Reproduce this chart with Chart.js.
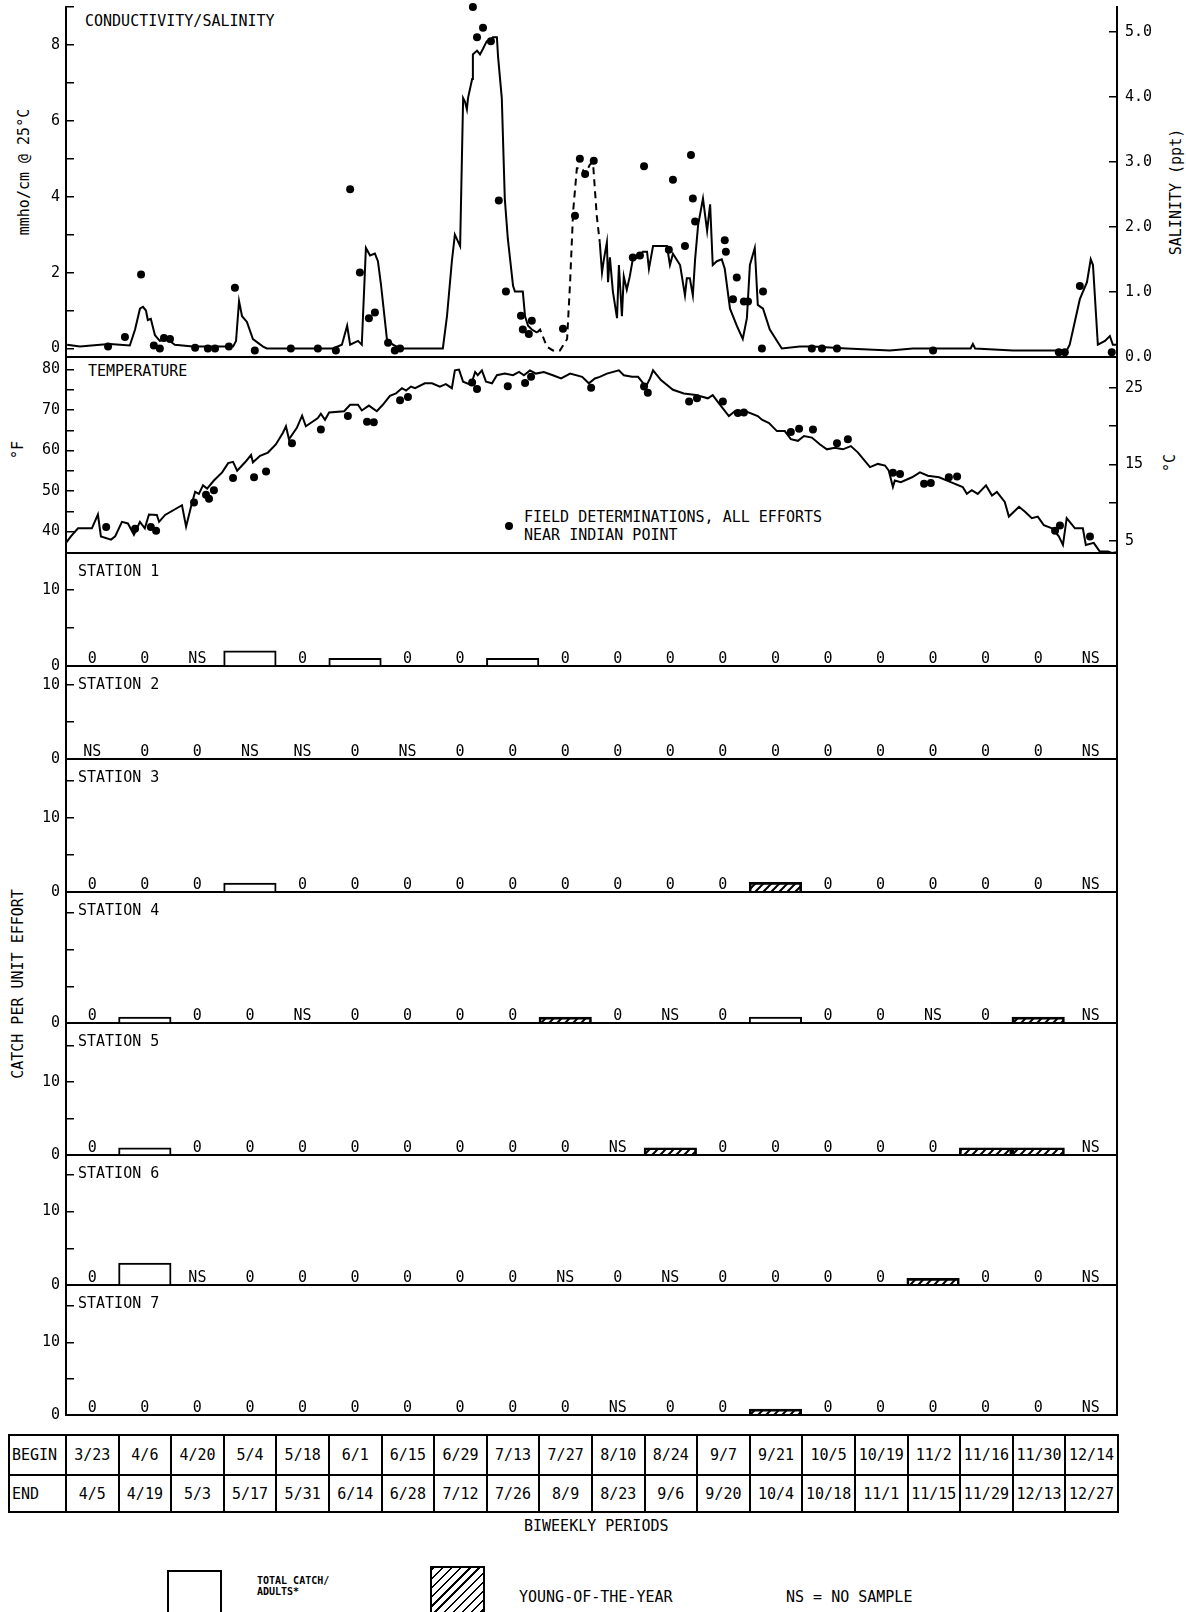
<!DOCTYPE html>
<html>
<head>
<meta charset="utf-8">
<title>Catch per unit effort, conductivity and temperature</title>
<script src="https://cdn.jsdelivr.net/npm/chart.js@4.4.1/dist/chart.umd.min.js"></script>
<style>
  body { margin: 0; background: #fff; }
  #page { position: relative; width: 1186px; height: 1612px; overflow: hidden;
          font-family: "DejaVu Sans Mono", monospace; font-size: 15px; color: #000; }
  canvas { position: absolute; left: 0; }
  .txt { position: absolute; white-space: nowrap; line-height: 16px; }
  .rot { position: absolute; white-space: nowrap; line-height: 16px;
         transform: translate(-50%, -50%) rotate(-90deg); }
  .dot { position: absolute; width: 8px; height: 8px; border-radius: 50%; background: #000; }
  #periods { position: absolute; left: 8px; top: 1434px; border-collapse: collapse; table-layout: fixed; }
  #periods td { border: 2px solid #000; padding: 0; text-align: center; white-space: nowrap; }
  #periods td.head { text-align: left; padding-left: 2px; }
  .box { position: absolute; width: 51px; height: 40px; border: 2px solid #000; }
  .hatched { background: repeating-linear-gradient(135deg, #000 0 1.6px, #fff 1.6px 6.5px); }
</style>
</head>
<body>
<div id="page">
  <div class="txt" style="left:85px; top:13px;">CONDUCTIVITY/SALINITY</div>
  <div class="txt" style="left:88px; top:363px;">TEMPERATURE</div>
  <div class="dot" style="left:505px; top:522px;"></div>
  <div class="txt" style="left:524px; top:509px;">FIELD DETERMINATIONS, ALL EFFORTS</div>
  <div class="txt" style="left:524px; top:527px;">NEAR INDIAN POINT</div>

  <div class="rot" style="left:24px; top:172px;">mmho/cm @ 25°C</div>
  <div class="rot" style="left:1176px; top:192px;">SALINITY (ppt)</div>
  <div class="rot" style="left:18px; top:450px;">°F</div>
  <div class="rot" style="left:1170px; top:463px;">°C</div>
  <div class="rot" style="left:18px; top:984px;">CATCH PER UNIT EFFORT</div>

  <table id="periods"></table>
  <div class="txt" style="left:524px; top:1518px;">BIWEEKLY PERIODS</div>

  <div class="box" style="left:167px; top:1570px;"></div>
  <div class="txt" style="left:257px; top:1575px; font-size:10px; line-height:11px; font-weight:bold;">TOTAL CATCH/<br>ADULTS*</div>
  <div class="box hatched" style="left:430px; top:1566px; height:44px;"></div>
  <div class="txt" style="left:519px; top:1589px;">YOUNG-OF-THE-YEAR</div>
  <div class="txt" style="left:786px; top:1589px;">NS = NO SAMPLE</div>
</div>

<script>
// ---------- periods (x runs in days counted from 3/23, 20 periods of 14 days) ----------
var BEGIN_DATES = ['3/23', '4/6', '4/20', '5/4', '5/18', '6/1', '6/15', '6/29', '7/13', '7/27',
                   '8/10', '8/24', '9/7', '9/21', '10/5', '10/19', '11/2', '11/16', '11/30', '12/14'];
var END_DATES = ['4/5', '4/19', '5/3', '5/17', '5/31', '6/14', '6/28', '7/12', '7/26', '8/9',
                 '8/23', '9/6', '9/20', '10/4', '10/18', '11/1', '11/15', '11/29', '12/13', '12/27'];
var SEASON_DAYS = 280;

// ---------- conductivity (mmho/cm @ 25 C), continuous record ----------
var COND_DAY = [0.3, 3.7, 9.1, 11.7, 17.0, 18.4, 19.7, 20.5, 21.3, 21.8, 22.6, 23.7, 25.0, 26.9, 29.0, 33.8,
  44.5, 45.3, 46.1, 46.9, 48.2, 49.8, 52.5, 53.5, 71.1, 73.5, 74.9, 75.7, 77.8, 78.8, 79.9, 81.0, 82.3, 83.1,
  83.9, 85.5, 87.1, 89.0, 100.4, 101.5, 102.8, 103.6, 105.0, 105.8, 106.3, 106.8, 107.1, 108.2, 108.4, 109.5,
  110.3, 111.1, 112.1, 112.9, 113.7, 114.8, 115.1, 116.1, 116.9, 117.7, 119.1, 119.6, 121.7, 122.3, 123.1,
  124.1, 125.5, 126.3, 128.1, 129.7, 131.6, 133.5, 134.3, 135.1, 136.1, 137.5, 138.3, 139.6, 140.4, 141.4,
  142.2, 142.8, 143.3, 144.1, 144.4, 144.9, 145.7, 146.8, 147.3, 148.1, 148.6, 149.4, 150.2, 151.0, 152.4,
  153.7, 154.8, 155.3, 156.4, 158.2, 160.1, 160.9, 161.7, 163.6, 164.9, 165.4, 166.2, 167.0, 167.6, 168.4,
  169.7, 170.8, 171.6, 172.3, 173.4, 174.7, 175.5, 176.9, 178.7, 180.3, 181.4, 182.2, 183.5, 184.3, 185.7,
  187.5, 190.7, 195.5, 199.0, 208.0, 219.5, 225.6, 241.0, 241.6, 242.2, 252.3, 266.6, 267.4, 270.1, 272.0,
  273.0, 273.6, 274.9, 276.8, 278.1, 278.9, 280];
var COND_VAL = [0.1, 0.05, 0.1, 0.12, 0.08, 0.5, 1.05, 1.1, 1.0, 0.75, 0.78, 0.35, 0.2, 0.25, 0.1, 0.05,
  0.05, 0.2, 1.25, 0.85, 0.7, 0.25, 0.05, 0.0, 0.0, 0.1, 0.6, 0.1, 0.2, 0.1, 2.65, 2.45, 2.5, 2.3,
  1.7, 0.25, 0.1, 0.0, 0.0, 0.85, 2.3, 3.0, 2.7, 6.6, 6.5, 6.3, 6.6, 7.1, 7.75, 7.85,
  7.75, 7.9, 8.1, 8.1, 8.2, 8.2, 7.7, 6.6, 3.95, 2.9, 1.65, 1.5, 1.5, 0.85, 0.6,
  0.5, 0.42, 0.5, 0.05, -0.05, -0.05, 0.25, 1.75, 3.6, 4.75, 4.75, 4.6, 4.85, 4.9, 3.5,
  2.8, 2.0, 2.35, 2.8, 1.75, 2.4, 1.5, 0.8, 2.2, 0.85, 1.9, 1.55, 1.9, 2.35, 2.4,
  2.55, 2.55, 2.1, 2.7, 2.7, 2.7, 2.2, 2.5, 2.2, 1.4, 1.85, 1.85, 1.4, 2.35, 3.25,
  3.95, 3.1, 3.8, 2.2, 2.3, 2.35, 2.1, 1.05, 0.6, 0.25, 0.8, 2.2, 2.65, 1.15, 1.05,
  0.5, 0.0, 0.05, 0.05, 0.0, -0.05, 0.0, 0.0, 0.12, 0.0, -0.05, -0.05, 0.1, 1.3, 1.75,
  2.35, 2.2, 0.1, 0.2, 0.33, 0.1, 0.1];
// stretch of the record drawn dashed (estimated)
var COND_DASH_FROM = 125.5;
var COND_DASH_TO = 142.2;

// field determinations (dots)
var COND_DOT_DAY = [11.2, 15.7, 20.0, 23.4, 25.0, 26.1, 27.7, 34.4, 37.8, 39.7, 43.4, 45.0, 50.3, 59.9, 67.1,
  71.9, 75.7, 78.3, 80.7, 82.3, 85.8, 87.6, 89.0, 108.4, 109.5, 111.1, 113.2, 115.3, 117.2, 121.2, 121.7,
  123.3, 124.1, 132.4, 135.6, 136.9, 138.3, 140.6, 151.0, 152.9, 154.0, 160.6, 161.7, 164.9, 166.5, 167.0,
  167.6, 175.5, 175.8, 177.7, 178.7, 180.6, 181.7, 185.4, 185.7, 198.7, 201.4, 205.4, 231.0, 264.5, 266.1,
  270.1, 278.6];
var COND_DOT_VAL = [0.05, 0.3, 1.95, 0.08, 0.0, 0.28, 0.25, 0.02, 0.0, 0.0, 0.05, 1.6, -0.05, 0.0, 0.0,
  -0.05, 4.2, 2.0, 0.8, 0.95, 0.15, -0.05, 0.0, 9.0, 8.2, 8.45, 8.1, 3.9, 1.5, 0.86, 0.5,
  0.38, 0.73, 0.52, 3.5, 5.0, 4.6, 4.95, 2.4, 2.45, 4.8, 2.6, 4.45, 2.7, 5.1, 3.95,
  3.35, 2.85, 2.55, 1.3, 1.87, 1.24, 1.24, 0.0, 1.5, 0.0, 0.0, 0.0, -0.05, -0.1, -0.1,
  1.65, -0.1];

var COND_TICKS = [0, 1, 2, 3, 4, 5, 6, 7, 8, 9];
var COND_LABELS = [0, 2, 4, 6, 8];
var SAL_TICKS = [0, 1, 2, 3, 4, 5];

// ---------- temperature (F) ----------
var TEMP_DAY = [0, 1.3, 3.2, 6.9, 8.5, 9.3, 12.0, 13.1, 14.9, 16.5, 18.1, 19.7, 21.0, 22.1, 24.2, 24.8,
  26.4, 30.9, 32.0, 33.3, 34.4, 35.4, 36.5, 37.6, 39.4, 41.6, 43.2, 44.5, 45.6, 47.7, 49.3, 49.8, 51.7,
  53.8, 55.9, 57.8, 58.6, 59.4, 61.5, 62.9, 63.9, 67.1, 67.9, 69.0, 70.1, 74.1, 75.7, 77.8, 78.8, 80.7,
  82.8, 84.4, 86.3, 87.9, 89.5, 90.6, 91.9, 93.0, 95.6, 97.5, 99.6, 101.2, 102.8, 103.6, 104.7, 105.8,
  107.9, 109.0, 109.7, 110.8, 111.9, 113.5, 114.8, 116.9, 119.1, 120.7, 122.0, 123.6, 125.2, 127.3, 129.7,
  131.9, 134.3, 137.5, 139.3, 140.9, 142.2, 144.1, 147.3, 148.6, 150.8, 152.4, 154.5, 155.6, 156.4, 158.5,
  161.7, 164.6, 167.8, 171.0, 172.3, 173.9, 176.6, 178.2, 179.5, 181.1, 184.3, 185.4, 187.3, 189.4, 191.5,
  193.1, 195.0, 196.6, 198.7, 200.9, 202.7, 204.8, 207.0, 209.1, 211.0, 214.2, 216.3, 218.2, 219.2, 220.3,
  220.8, 222.4, 225.4, 227.5, 229.6, 232.6, 235.7, 238.9, 240.0, 241.3, 242.9, 245.1, 246.7, 248.0, 250.1,
  251.2, 253.9, 255.5, 257.3, 258.9, 260.5, 262.7, 264.5, 265.6, 266.6, 268.8, 270.9, 271.7, 273.8, 275.4,
  277.6, 278.6, 280];
var TEMP_VAL = [37.2, 38.8, 40.8, 40.8, 44.2, 38.8, 38.0, 38.8, 42.4, 42.0, 39.2, 42.4, 40.8, 44.2, 44.1, 42.4,
  44.1, 46.5, 41.2, 46.1, 49.8, 49.3, 51.4, 50.6, 52.6, 54.6, 56.9, 57.2, 55.0, 57.1, 58.9, 57.1, 58.7,
  59.5, 61.5, 64.4, 66.0, 62.8, 65.6, 68.6, 66.0, 68.0, 69.1, 67.6, 69.4, 69.7, 71.3, 71.3, 69.9, 71.1,
  69.7, 71.3, 73.5, 74.1, 75.4, 74.8, 75.8, 75.4, 76.6, 76.6, 75.8, 76.4, 75.4, 79.8, 80.0, 77.0,
  76.2, 79.4, 78.6, 79.8, 77.0, 76.6, 78.6, 79.0, 78.6, 79.4, 78.6, 79.8, 79.0, 79.4, 78.6,
  77.8, 79.0, 78.2, 76.6, 77.8, 78.2, 79.0, 79.8, 78.6, 78.2, 78.2, 75.8, 77.8, 79.8, 77.4,
  75.0, 74.1, 73.7, 72.9, 73.7, 71.7, 68.5, 69.7, 68.9, 69.7, 68.5, 67.6, 66.8, 64.8, 64.8,
  62.8, 62.4, 63.6, 63.2, 61.5, 60.3, 60.7, 60.3, 61.1, 59.5, 55.9, 56.7, 56.3, 55.0, 51.0,
  52.6, 52.2, 53.4, 54.6, 53.8, 53.4, 52.2, 51.0, 49.3, 50.2, 49.3, 51.4, 48.9, 49.8, 47.3,
  43.7, 46.1, 44.9, 43.3, 43.7, 41.6, 40.8, 38.8, 36.7, 43.3, 40.8, 40.8, 36.7, 37.2, 35.1,
  35.1, 34.7, 34.9];

var TEMP_DOT_DAY = [10.7, 18.4, 22.6, 24.0, 34.1, 37.3, 38.1, 39.4, 44.5, 50.1, 53.3, 60.2, 67.9, 75.1, 80.2,
  82.0, 89.0, 91.1, 108.2, 109.5, 117.7, 122.3, 123.9, 139.9, 154.0, 155.0, 166.0, 168.1, 175.0, 179.0,
  180.6, 193.1, 195.3, 199.0, 205.4, 208.3, 220.3, 222.2, 228.6, 230.4, 235.2, 237.4, 263.5, 264.8, 272.8];
var TEMP_DOT_VAL = [41.1, 40.7, 41.1, 40.2, 47.2, 49.1, 48.1, 50.2, 53.2, 53.4, 54.8, 61.8, 65.2, 68.5, 67.1,
  67.0, 72.4, 73.2, 76.8, 75.2, 75.9, 76.7, 78.2, 75.5, 75.8, 74.3, 72.1, 72.9, 72.1, 69.3,
  69.4, 64.6, 65.4, 65.2, 61.8, 62.8, 54.5, 54.2, 51.8, 52.0, 53.4, 53.6, 40.2, 41.5, 38.8];

var TEMP_F_TICKS = [40, 45, 50, 55, 60, 65, 70, 75, 80];
var TEMP_F_LABELS = [40, 50, 60, 70, 80];
var TEMP_C_TICKS = [5, 10, 15, 20, 25];
var TEMP_C_LABELS = [5, 15, 25];

// ---------- catch per unit effort by station ('NS' = no sample) ----------
var S1_ADULT = [0, 0, 'NS', 2.0, 0, 1.0, 0, 0, 1.0, 0, 0, 0, 0, 0, 0, 0, 0, 0, 0, 'NS'];
var S1_YOUNG = [0, 0, 0, 0, 0, 0, 0, 0, 0, 0, 0, 0, 0, 0, 0, 0, 0, 0, 0, 0];
var S2_ADULT = ['NS', 0, 0, 'NS', 'NS', 0, 'NS', 0, 0, 0, 0, 0, 0, 0, 0, 0, 0, 0, 0, 'NS'];
var S2_YOUNG = [0, 0, 0, 0, 0, 0, 0, 0, 0, 0, 0, 0, 0, 0, 0, 0, 0, 0, 0, 0];
var S3_ADULT = [0, 0, 0, 1.2, 0, 0, 0, 0, 0, 0, 0, 0, 0, 0, 0, 0, 0, 0, 0, 'NS'];
var S3_YOUNG = [0, 0, 0, 0, 0, 0, 0, 0, 0, 0, 0, 0, 0, 1.3, 0, 0, 0, 0, 0, 0];
var S4_ADULT = [0, 0.8, 0, 0, 'NS', 0, 0, 0, 0, 0, 0, 'NS', 0, 0.8, 0, 0, 'NS', 0, 0, 'NS'];
var S4_YOUNG = [0, 0, 0, 0, 0, 0, 0, 0, 0, 0.8, 0, 0, 0, 0, 0, 0, 0, 0, 0.8, 0];
var S5_ADULT = [0, 1.0, 0, 0, 0, 0, 0, 0, 0, 0, 'NS', 0, 0, 0, 0, 0, 0, 0, 0, 'NS'];
var S5_YOUNG = [0, 0, 0, 0, 0, 0, 0, 0, 0, 0, 0, 1.0, 0, 0, 0, 0, 0, 1.0, 1.0, 0];
var S6_ADULT = [0, 3.0, 'NS', 0, 0, 0, 0, 0, 0, 'NS', 0, 'NS', 0, 0, 0, 0, 0, 0, 0, 'NS'];
var S6_YOUNG = [0, 0, 0, 0, 0, 0, 0, 0, 0, 0, 0, 0, 0, 0, 0, 0, 0.9, 0, 0, 0];
var S7_ADULT = [0, 0, 0, 0, 0, 0, 0, 0, 0, 0, 'NS', 0, 0, 0, 0, 0, 0, 0, 0, 'NS'];
var S7_YOUNG = [0, 0, 0, 0, 0, 0, 0, 0, 0, 0, 0, 0, 0, 0.8, 0, 0, 0, 0, 0, 0];

// ---------- layout ----------
var PAGE_W = 1186;
var PLOT_LEFT = 66;
var PLOT_RIGHT = 1117;
var PAD = 32;   // must stay above half a label height + tick padding
var FONT = '"DejaVu Sans Mono", monospace';

Chart.defaults.font.family = FONT;
Chart.defaults.font.size = 15;
Chart.defaults.color = '#000';

function tambahKanvas(top, bottom) {
    var c = document.createElement('canvas');
    c.width = PAGE_W;
    c.height = bottom - top + 2 * PAD;
    c.style.top = (top - PAD) + 'px';
    document.getElementById('page').appendChild(c);
    return c.getContext('2d');
}

function pasangkan(xs, ys) {
    return xs.map(function(x, i) { return { x: x, y: ys[i] }; });
}

// y axis with the tick marks pointing into the plot
function sumbuY(posisi, min, max, ticks, labels, fmt) {
    return {
        position: posisi,
        min: min,
        max: max,
        afterFit: function(s) { s.width = posisi === 'left' ? PLOT_LEFT : PAGE_W - PLOT_RIGHT; },
        afterBuildTicks: function(s) { s.ticks = ticks.map(function(v) { return { value: v }; }); },
        ticks: {
            autoSkip: false,
            padding: posisi === 'left' ? 14 : 16,
            callback: function(v) { return labels.indexOf(v) >= 0 ? (fmt ? fmt(v) : String(v)) : ''; }
        },
        grid: { drawOnChartArea: false, tickLength: -8, color: '#000', lineWidth: 1.5 },
        border: { display: true, color: '#000', width: 2 }
    };
}

function sumbuKosong(posisi) {
    return {
        position: posisi,
        afterFit: function(s) { s.width = PAGE_W - PLOT_RIGHT; },
        ticks: { display: false },
        grid: { display: false },
        border: { display: true, color: '#000', width: 2 }
    };
}

function sumbuX(tipe) {
    var s = {
        type: tipe,
        afterFit: function(sc) { sc.height = 0; },
        ticks: { display: false },
        grid: { display: false, drawTicks: false },
        border: { display: true, color: '#000', width: 2 }
    };
    if (tipe === 'linear') { s.min = 0; s.max = SEASON_DAYS; }
    return s;
}

var opsiDasar = {
    responsive: false,
    animation: false,
    devicePixelRatio: 1,
    layout: { padding: { top: PAD, bottom: PAD, left: 0, right: 0 } },
    plugins: { legend: { display: false }, tooltip: { enabled: false } }
};

function opsi(scales) {
    return Object.assign({}, opsiDasar, { scales: scales });
}

// --- CONDUCTIVITY / SALINITY ---
new Chart(tambahKanvas(7, 357), {
    type: 'line',
    data: {
        datasets: [{
            data: pasangkan(COND_DAY, COND_VAL),
            borderColor: '#000',
            borderWidth: 2,
            pointRadius: 0,
            tension: 0,
            clip: false,
            segment: {
                borderDash: function(c) {
                    return (c.p0.parsed.x >= COND_DASH_FROM && c.p1.parsed.x <= COND_DASH_TO) ? [7, 5] : undefined;
                }
            }
        }, {
            data: pasangkan(COND_DOT_DAY, COND_DOT_VAL),
            showLine: false,
            pointRadius: 4,
            pointBorderWidth: 0,
            pointBackgroundColor: '#000',
            clip: false
        }]
    },
    options: opsi({
        x: sumbuX('linear'),
        y: sumbuY('left', -0.224, 9, COND_TICKS, COND_LABELS),
        ySal: sumbuY('right', 0, 5.385, SAL_TICKS, SAL_TICKS, function(v) { return v.toFixed(1); })
    })
});

// --- TEMPERATURE ---
new Chart(tambahKanvas(357, 553), {
    type: 'line',
    data: {
        datasets: [{
            data: pasangkan(TEMP_DAY, TEMP_VAL),
            borderColor: '#000',
            borderWidth: 2,
            pointRadius: 0,
            tension: 0,
            clip: false
        }, {
            data: pasangkan(TEMP_DOT_DAY, TEMP_DOT_VAL),
            showLine: false,
            pointRadius: 4,
            pointBorderWidth: 0,
            pointBackgroundColor: '#000',
            clip: false
        }]
    },
    options: opsi({
        x: sumbuX('linear'),
        y: sumbuY('left', 34.7, 83.1, TEMP_F_TICKS, TEMP_F_LABELS),
        yC: sumbuY('right', 3.43, 29.05, TEMP_C_TICKS, TEMP_C_LABELS)
    })
});

// --- STATIONS ---
function polaArsir(ctx) {
    var c = document.createElement('canvas');
    c.width = c.height = 8;
    var g = c.getContext('2d');
    g.strokeStyle = '#000';
    g.lineWidth = 2;
    g.beginPath();
    g.moveTo(0, 8); g.lineTo(8, 0);
    g.moveTo(-4, 4); g.lineTo(4, -4);
    g.moveTo(4, 12); g.lineTo(12, 4);
    g.stroke();
    return ctx.createPattern(c, 'repeat');
}

// writes "0" / "NS" under each empty period and the station name
function labelStasiun(nama, dewasa, muda) {
    return {
        id: 'labelStasiun',
        afterDatasetsDraw: function(chart) {
            var ctx = chart.ctx, x = chart.scales.x, y = chart.scales.y, area = chart.chartArea;
            ctx.save();
            ctx.font = '15px ' + FONT;
            ctx.fillStyle = '#000';
            ctx.textBaseline = 'middle';
            ctx.textAlign = 'left';
            ctx.fillText(nama, area.left + 12, area.top + 19);
            ctx.textAlign = 'center';
            ctx.textBaseline = 'alphabetic';
            dewasa.forEach(function(v, i) {
                var teks = null;
                if (v === 'NS') teks = 'NS';
                else if (v === 0 && !muda[i]) teks = '0';
                if (teks) ctx.fillText(teks, x.getPixelForValue(i), y.getPixelForValue(0) - 3);
            });
            ctx.restore();
        }
    };
}

function grafikStasiun(nama, top, bottom, maxY, ticks, labels, dewasa, muda) {
    var ctx = tambahKanvas(top, bottom);
    new Chart(ctx, {
        type: 'bar',
        data: {
            labels: BEGIN_DATES,
            datasets: [{
                data: dewasa.map(function(v) { return (typeof v === 'number' && v > 0) ? v : null; }),
                backgroundColor: '#fff'
            }, {
                data: muda.map(function(v) { return v > 0 ? v : null; }),
                backgroundColor: polaArsir(ctx)
            }]
        },
        options: Object.assign(opsi({
            x: sumbuX('category'),
            y: sumbuY('left', 0, maxY, ticks, labels),
            yKanan: sumbuKosong('right')
        }), {
            datasets: {
                bar: {
                    grouped: false,
                    barPercentage: 1,
                    categoryPercentage: 1,
                    borderColor: '#000',
                    borderWidth: 2,
                    borderSkipped: 'start'
                }
            }
        }),
        plugins: [labelStasiun(nama, dewasa, muda)]
    });
}

grafikStasiun('STATION 1', 553, 666, 14.87, [0, 5, 10], [0, 10], S1_ADULT, S1_YOUNG);
grafikStasiun('STATION 2', 666, 759, 12.57, [0, 5, 10], [0, 10], S2_ADULT, S2_YOUNG);
grafikStasiun('STATION 3', 759, 892, 17.97, [0, 5, 10, 15], [0, 10], S3_ADULT, S3_YOUNG);
grafikStasiun('STATION 4', 892, 1023, 17.9, [0, 5, 10, 15], [0], S4_ADULT, S4_YOUNG);
grafikStasiun('STATION 5', 1023, 1155, 18.1, [0, 5, 10, 15], [0, 10], S5_ADULT, S5_YOUNG);
grafikStasiun('STATION 6', 1155, 1285, 17.7, [0, 5, 10, 15], [0, 10], S6_ADULT, S6_YOUNG);
grafikStasiun('STATION 7', 1285, 1415, 17.9, [0, 5, 10, 15], [0, 10], S7_ADULT, S7_YOUNG);

// --- TABLE OF BIWEEKLY PERIODS ---
(function() {
    var tabel = document.getElementById('periods');
    var html = '<colgroup><col style="width:57px">';
    BEGIN_DATES.forEach(function() { html += '<col style="width:52.6px">'; });
    html += '</colgroup>';
    html += '<tr style="height:40px"><td class="head">BEGIN</td>' +
        BEGIN_DATES.map(function(d) { return '<td>' + d + '</td>'; }).join('') + '</tr>';
    html += '<tr style="height:37px"><td class="head">END</td>' +
        END_DATES.map(function(d) { return '<td>' + d + '</td>'; }).join('') + '</tr>';
    tabel.innerHTML = html;
})();
</script>
</body>
</html>
